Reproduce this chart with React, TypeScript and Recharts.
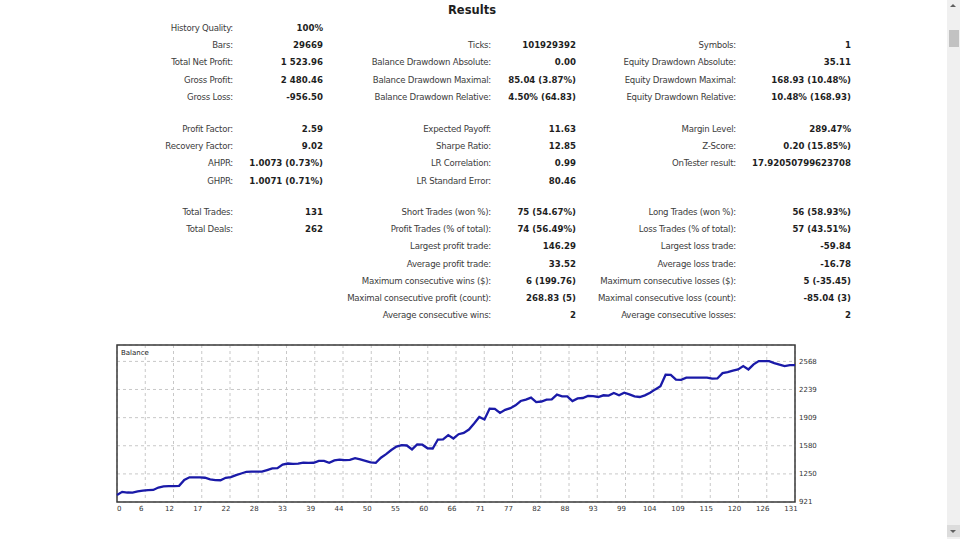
import React from 'react';
import { LineChart, Line, XAxis, YAxis, CartesianGrid, ReferenceArea } from 'recharts';

// ---------- chart data ----------
const balance = [
  1003, 1040, 1032, 1030, 1045, 1053, 1060, 1062, 1090, 1105,
  1108, 1108, 1110, 1180, 1210, 1210, 1210, 1205, 1186, 1178,
  1176, 1205, 1212, 1236, 1255, 1275, 1276, 1276, 1276, 1295,
  1315, 1318, 1360, 1372, 1368, 1370, 1382, 1380, 1381, 1403,
  1402, 1380, 1408, 1417, 1412, 1414, 1434, 1420, 1403, 1385,
  1380, 1440, 1482, 1530, 1570, 1587, 1583, 1537, 1595, 1592,
  1550, 1548, 1653, 1655, 1704, 1665, 1715, 1730, 1770, 1840,
  1917, 1887, 2015, 2012, 1964, 2000, 2020, 2054, 2104, 2120,
  2144, 2092, 2098, 2120, 2124, 2179, 2159, 2158, 2104, 2135,
  2139, 2163, 2160, 2151, 2171, 2168, 2198, 2171, 2202, 2182,
  2158, 2151, 2170, 2200, 2240, 2276, 2412, 2410, 2354, 2352,
  2377, 2377, 2377, 2377, 2377, 2366, 2368, 2431, 2443, 2460,
  2474, 2513, 2474, 2533, 2571, 2572, 2570, 2548, 2530, 2513,
  2525, 2524,
];

const xTickLabels = [
  '0', '6', '12', '17', '22', '28', '33', '39', '44', '50', '55', '60', '66',
  '71', '77', '82', '88', '93', '99', '104', '109', '115', '120', '126', '131',
];
const yTickValues = [921, 1250, 1580, 1909, 2239, 2568];
const yMin = 921;
const yMax = 2760;
const seriesName = 'Balance';

// ---------- report text ----------
type Row = [string, string] | null;

const summaryCol1: Row[] = [
  ['History Quality:', '100%'],
  ['Bars:', '29669'],
  ['Total Net Profit:', '1 523.96'],
  ['Gross Profit:', '2 480.46'],
  ['Gross Loss:', '-956.50'],
];
const summaryCol2: Row[] = [
  null,
  ['Ticks:', '101929392'],
  ['Balance Drawdown Absolute:', '0.00'],
  ['Balance Drawdown Maximal:', '85.04 (3.87%)'],
  ['Balance Drawdown Relative:', '4.50% (64.83)'],
];
const summaryCol3: Row[] = [
  null,
  ['Symbols:', '1'],
  ['Equity Drawdown Absolute:', '35.11'],
  ['Equity Drawdown Maximal:', '168.93 (10.48%)'],
  ['Equity Drawdown Relative:', '10.48% (168.93)'],
];

const ratioCol1: Row[] = [
  ['Profit Factor:', '2.59'],
  ['Recovery Factor:', '9.02'],
  ['AHPR:', '1.0073 (0.73%)'],
  ['GHPR:', '1.0071 (0.71%)'],
];
const ratioCol2: Row[] = [
  ['Expected Payoff:', '11.63'],
  ['Sharpe Ratio:', '12.85'],
  ['LR Correlation:', '0.99'],
  ['LR Standard Error:', '80.46'],
];
const ratioCol3: Row[] = [
  ['Margin Level:', '289.47%'],
  ['Z-Score:', '0.20 (15.85%)'],
  ['OnTester result:', '17.92050799623708'],
];

const tradeCol1: Row[] = [
  ['Total Trades:', '131'],
  ['Total Deals:', '262'],
];
const tradeCol2: Row[] = [
  ['Short Trades (won %):', '75 (54.67%)'],
  ['Profit Trades (% of total):', '74 (56.49%)'],
  ['Largest profit trade:', '146.29'],
  ['Average profit trade:', '33.52'],
  ['Maximum consecutive wins ($):', '6 (199.76)'],
  ['Maximal consecutive profit (count):', '268.83 (5)'],
  ['Average consecutive wins:', '2'],
];
const tradeCol3: Row[] = [
  ['Long Trades (won %):', '56 (58.93%)'],
  ['Loss Trades (% of total):', '57 (43.51%)'],
  ['Largest loss trade:', '-59.84'],
  ['Average loss trade:', '-16.78'],
  ['Maximum consecutive losses ($):', '5 (-35.45)'],
  ['Maximal consecutive loss (count):', '-85.04 (3)'],
  ['Average consecutive losses:', '2'],
];

const sections = [
  { top: 28, cols: [summaryCol1, summaryCol2, summaryCol3] },
  { top: 129, cols: [ratioCol1, ratioCol2, ratioCol3] },
  { top: 212, cols: [tradeCol1, tradeCol2, tradeCol3] },
];
const colEdges = [
  { label: 233, value: 323 },
  { label: 491, value: 576 },
  { label: 736, value: 851 },
];
const ROW_PITCH = 17.2;
const PAGE_W = 960;
const FONT = "'DejaVu Sans', Verdana, sans-serif";

const chartData = balance.map((v, i) => ({ trade: i, balance: v }));
const xMax = balance.length - 1;
const xTicks = xTickLabels.map((_, i) => (i * xMax) / (xTickLabels.length - 1));

const XTick = (props: any) => {
  const { x, y, payload, index } = props;
  const first = index === 0;
  return (
    <text
      x={x + (first ? 0 : -4)}
      y={y}
      dy="0.71em"
      textAnchor={first ? 'start' : 'middle'}
      fontSize={7}
      fontFamily={FONT}
      fill="#333"
    >
      {xTickLabels[index] ?? String(payload.value)}
    </text>
  );
};

const TextRow = ({ row, y, col }: { row: Row; y: number; col: number }) => {
  if (!row) return null;
  const edge = colEdges[col];
  const common: React.CSSProperties = {
    position: 'absolute',
    top: y - 6,
    height: 12,
    lineHeight: '12px',
    whiteSpace: 'nowrap',
    fontFamily: FONT,
    fontSize: 8.6,
  };
  return (
    <>
      <div style={{ ...common, right: PAGE_W - edge.label, color: '#3c3c3c', letterSpacing: -0.25 }}>
        {row[0]}
      </div>
      <div style={{ ...common, right: PAGE_W - edge.value, color: '#1e1e1e', fontWeight: 'bold' }}>
        {row[1]}
      </div>
    </>
  );
};

export default function App() {
  return (
    <div
      style={{
        position: 'fixed',
        left: 0,
        top: 0,
        width: PAGE_W,
        height: 539,
        background: '#ffffff',
        overflow: 'hidden',
      }}
    >
      <div
        style={{
          position: 'absolute',
          left: 372,
          width: 200,
          top: 3,
          textAlign: 'center',
          fontFamily: FONT,
          fontWeight: 'bold',
          fontSize: 11.5,
          lineHeight: '14px',
          color: '#1e1e1e',
        }}
      >
        Results
      </div>

      {sections.map((s, si) =>
        s.cols.map((rows, ci) =>
          rows.map((row, ri) => (
            <TextRow key={`${si}-${ci}-${ri}`} row={row} col={ci} y={s.top + ri * ROW_PITCH} />
          ))
        )
      )}

      <div style={{ position: 'absolute', left: 99, top: 335 }}>
        <LineChart
          width={736}
          height={185}
          data={chartData}
          margin={{ top: 10, right: 0, bottom: 0, left: 18 }}
        >
          <CartesianGrid stroke="#c8c8c8" strokeDasharray="3 3" verticalCoordinatesGenerator={undefined} />
          <XAxis
            dataKey="trade"
            type="number"
            domain={[0, xMax]}
            ticks={xTicks}
            interval={0}
            tick={<XTick />}
            tickLine={false}
            axisLine={false}
            tickSize={2}
            tickMargin={2}
            height={18}
            allowDecimals
          />
          <YAxis
            orientation="right"
            type="number"
            domain={[yMin, yMax]}
            ticks={yTickValues}
            interval={0}
            tickLine={false}
            axisLine={false}
            tickSize={2}
            tickMargin={2}
            width={40}
            tick={{ fontSize: 7, fontFamily: FONT, fill: '#333', textAnchor: 'start' }}
            allowDataOverflow
          />
          <ReferenceArea
            x1={0}
            x2={xMax}
            y1={yMin}
            y2={yMax}
            fill="none"
            stroke="#3a3a3a"
            strokeWidth={1.5}
            ifOverflow="visible"
          />
          <Line
            type="linear"
            dataKey="balance"
            name={seriesName}
            stroke="#1a1aa8"
            strokeWidth={2.3}
            dot={false}
            isAnimationActive={false}
          />
        </LineChart>
      </div>
      <div
        style={{
          position: 'absolute',
          left: 121,
          top: 347,
          fontFamily: FONT,
          fontSize: 7,
          lineHeight: '12px',
          color: '#222',
        }}
      >
        {seriesName}
      </div>

      {/* scrollbar */}
      <div style={{ position: 'absolute', left: 947, top: 0, width: 13, height: 539, background: '#f0f0f0' }} />
      <div style={{ position: 'absolute', left: 949, top: 30, width: 10, height: 17, background: '#c2c2c2' }} />
      <div
        style={{
          position: 'absolute',
          left: 950,
          top: 4,
          width: 0,
          height: 0,
          borderLeft: '3px solid transparent',
          borderRight: '3px solid transparent',
          borderBottom: '3px solid #606060',
        }}
      />
      <div style={{ position: 'absolute', left: 947, top: 525, width: 13, height: 12, background: '#dcdcdc' }} />
      <div
        style={{
          position: 'absolute',
          left: 950,
          top: 530,
          width: 0,
          height: 0,
          borderLeft: '3px solid transparent',
          borderRight: '3px solid transparent',
          borderTop: '3px solid #606060',
        }}
      />
    </div>
  );
}
